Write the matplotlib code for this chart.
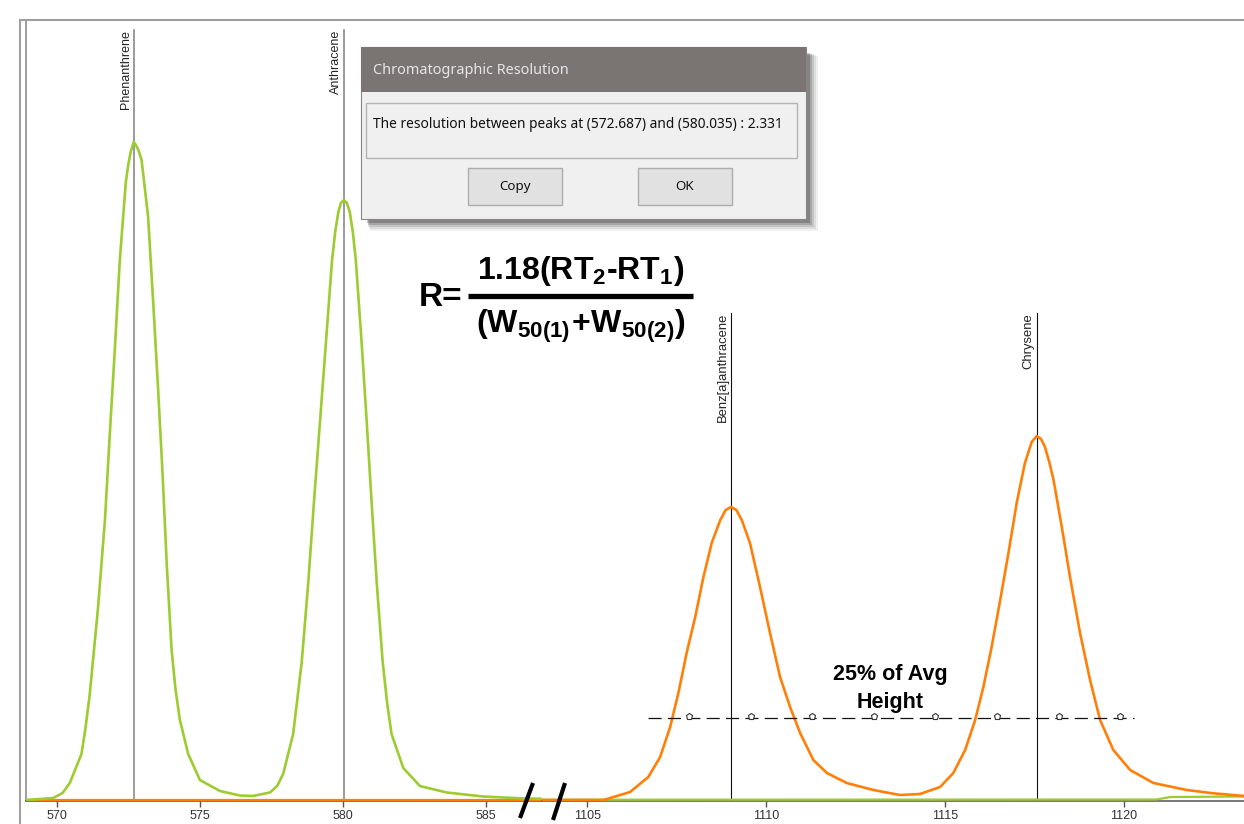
import numpy as np
import matplotlib
matplotlib.use("Agg")
import matplotlib.pyplot as plt
from matplotlib.patches import Rectangle
from matplotlib.lines import Line2D

plt.rcParams['mathtext.fontset'] = 'custom'
plt.rcParams['mathtext.rm'] = 'Liberation Sans:bold'
plt.rcParams['mathtext.it'] = 'Liberation Sans:bold'
plt.rcParams['mathtext.bf'] = 'Liberation Sans:bold'

# green trace (left window, min)
green_x = [568.94, 569.87, 570.20, 570.45, 570.86, 571.00, 571.15, 571.44, 571.68, 571.85,
           572.03, 572.20, 572.41, 572.50, 572.58, 572.687, 572.76, 572.85, 572.96,
           573.19, 573.37, 573.54, 573.70, 573.84, 574.01, 574.15, 574.30, 574.59,
           575.00, 575.70, 576.40, 576.85, 577.45, 577.70, 577.91, 578.26, 578.56,
           578.79, 578.99, 579.20, 579.41, 579.62, 579.73, 579.84, 579.93, 580.035,
           580.14, 580.24, 580.35, 580.45, 580.65, 580.83, 581.00, 581.18, 581.39,
           581.55, 581.70, 582.11, 582.69, 583.63, 584.90, 586.29, 587.0]
green_y = [0, 2, 7, 17, 46, 72, 106, 193, 280, 366,
           453, 540, 618, 636, 648, 658, 655, 650, 640,
           583, 496, 410, 323, 236, 150, 110, 80, 46,
           20, 9, 4.5, 4, 7.5, 14, 26, 66, 138,
           218, 299, 379, 459, 540, 568, 588, 597, 600,
           597, 588, 567, 540, 459, 379, 299, 218, 138,
           96, 66, 32, 14, 7.5, 3.5, 1.6, 1.2]

# orange trace (right window, min)
orange_x = [1103.74, 1105.46, 1106.20, 1106.71, 1107.04, 1107.32, 1107.55, 1107.78,
            1108.02, 1108.25, 1108.48, 1108.72, 1108.87, 1109.02, 1109.17, 1109.32,
            1109.55, 1109.83, 1110.11, 1110.39, 1110.67, 1110.95, 1111.32, 1111.70,
            1112.25, 1113.00, 1113.74, 1114.30, 1114.86, 1115.23, 1115.56, 1115.84,
            1116.07, 1116.30, 1116.54, 1116.77, 1117.00, 1117.23, 1117.42, 1117.56,
            1117.68, 1117.79, 1117.91, 1118.03, 1118.26, 1118.49, 1118.77, 1119.05,
            1119.33, 1119.70, 1120.17, 1120.82, 1121.75, 1122.49, 1123.35]
orange_y = [0, 0, 8, 23, 43, 73, 107, 147,
            183, 223, 257, 280, 290, 293, 290, 280,
            257, 213, 167, 123, 93, 67, 40, 27,
            17, 10, 5, 6, 13, 27, 50, 80,
            113, 153, 200, 247, 297, 337, 358, 364,
            361, 353, 338, 320, 273, 223, 167, 120,
            80, 50, 30, 17, 10, 6.7, 4]

# flat traces in the other window
orange_left_x = [568.9, 587.0]
orange_left_y = [0.3, 0.3]
green_right_x = [1103.74, 1120.9, 1121.3, 1123.35]
green_right_y = [0.3, 0.5, 3, 3.5]

peaks_left = ["Phenanthrene", "Anthracene"]
rt_left = [572.687, 580.035]
peaks_right = ["Benz[a]anthracene", "Chrysene"]
rt_right = [1109.02, 1117.56]

# 25% of average height line
avg_height = (293 + 364) / 2
level = 0.25 * avg_height
level_x = [1106.70, 1120.28]
marker_x = [1107.85, 1109.58, 1111.28, 1113.02, 1114.72, 1116.45, 1118.18, 1119.89]

ticks_left = [570, 575, 580, 585]
ticks_right = [1105, 1110, 1115, 1120]

GREEN = '#9ccc30'
ORANGE = '#ff8008'

W, H = 1244, 824
fig = plt.figure(figsize=(W / 100, H / 100), dpi=100)


def fx(px):
    return px / W


def fy(py):
    return 1 - py / H


def box(x0, y0, x1, y1, **kw):
    fig.patches.append(Rectangle((fx(x0), fy(y1)), fx(x1) - fx(x0), fy(y0) - fy(y1),
                                 transform=fig.transFigure, **kw))


def fline(xs, ys, **kw):
    fig.lines.append(Line2D([fx(v) for v in xs], [fy(v) for v in ys],
                            transform=fig.transFigure, **kw))


brk = 542
bottom, top = 801, 20
ax1 = fig.add_axes([fx(26), fy(bottom), fx(brk) - fx(26), fy(top) - fy(bottom)])
ax2 = fig.add_axes([fx(brk), fy(bottom), fx(W) - fx(brk), fy(top) - fy(bottom)])

for ax, lo, hi, ticks in [(ax1, 568.92, 586.96, ticks_left), (ax2, 1103.74, 1123.35, ticks_right)]:
    ax.set_xlim(lo, hi)
    ax.set_ylim(-1, 780)
    ax.set_yticks([])
    ax.set_xticks(ticks)
    ax.set_xticklabels([str(t) for t in ticks], fontsize=9, color='#333333',
                       family='Liberation Sans')
    ax.tick_params(axis='x', length=4, width=1, color='#555555', pad=2.5)
    for s in ['top', 'right']:
        ax.spines[s].set_visible(False)
    ax.spines['bottom'].set_color('#606060')
    ax.spines['bottom'].set_linewidth(1.2)
    ax.patch.set_alpha(0)
ax1.spines['left'].set_color('#909090')
ax1.spines['left'].set_linewidth(1.2)
ax2.spines['left'].set_visible(False)

# traces
ax1.plot(orange_left_x, orange_left_y, color=ORANGE, lw=1.6, zorder=3)
ax1.plot(green_x, green_y, color=GREEN, lw=1.9, zorder=4)
ax2.plot(green_right_x, green_right_y, color=GREEN, lw=1.6, zorder=3)
ax2.plot(orange_x, orange_y, color=ORANGE, lw=1.9, zorder=4)

# peak labels
for name, rt in zip(peaks_left, rt_left):
    ax1.plot([rt, rt], [0, 770], color='#808080', lw=1.1, zorder=2)
    ax1.annotate(name, xy=(rt, 770), xytext=(-1.5, 0), textcoords='offset points',
                 rotation=90, ha='right', va='top', fontsize=9, color='#222222',
                 family='Liberation Sans')
for name, rt in zip(peaks_right, rt_right):
    ax2.plot([rt, rt], [0, 487], color='#111111', lw=0.8, zorder=2)
    ax2.annotate(name, xy=(rt, 487), xytext=(-1.5, 0), textcoords='offset points',
                 rotation=90, ha='right', va='top', fontsize=9.4, color='#222222',
                 family='Liberation Sans')

# 25% height line with markers
ax2.plot(level_x, [level, level], color='#111111', lw=0.9, dashes=(10.5, 5), zorder=5)
ax2.plot(marker_x, [level + 2] * len(marker_x), linestyle='none', marker='p',
         markersize=4.5, markerfacecolor='white', markeredgecolor='#333333',
         markeredgewidth=0.8, zorder=6)
ax2.text(1113.46, level + 5, "25% of Avg\nHeight", ha='center', va='bottom',
         fontsize=15.5, fontweight='bold', family='Liberation Sans',
         linespacing=1.45, zorder=6)

# outer frame
fline([20, W], [20, 20], color='#a0a0a0', lw=1.5)
fline([20, 20], [20, H], color='#a0a0a0', lw=1.5)

# axis break marks
fline([533, 520], [783, 818], color='black', lw=3, solid_capstyle='butt')
fline([565, 553], [783, 820], color='black', lw=3, solid_capstyle='butt')

# dialog box with soft shadow
for i, a in enumerate([0.06, 0.08, 0.11, 0.15, 0.2]):
    d = 12 - 2 * i
    box(366 + d * 0.3, 52 + d * 0.3, 806 + d, 219 + d, facecolor='black', alpha=a,
        edgecolor='none', zorder=10)
box(361, 47, 806, 219, facecolor='#f0f0f0', edgecolor='#8a8584', lw=0.8, zorder=11)
box(361, 47, 806, 92, facecolor='#7a7473', edgecolor='none', zorder=12)
fig.text(fx(373), fy(70), "Chromatographic Resolution", ha='left', va='center',
         fontsize=10.4, color='#e6e6e6', family='Noto Sans', zorder=13)
box(366, 103, 797, 158, facecolor='#f0f0f0', edgecolor='#b4b4b4', lw=1, zorder=12)
fig.text(fx(373), fy(125), "The resolution between peaks at (572.687) and (580.035) : 2.331",
         ha='left', va='center', fontsize=9.9, color='#111111', family='Noto Sans', zorder=13)
for label, x0, x1 in [("Copy", 468, 562), ("OK", 638, 732)]:
    box(x0, 168, x1, 205, facecolor='#e1e1e1', edgecolor='#adadad', lw=1, zorder=12)
    fig.text(fx((x0 + x1) / 2), fy(186.5), label, ha='center', va='center',
             fontsize=9.6, color='#111111', family='Noto Sans', zorder=13)

# resolution formula
fig.text(fx(441), fy(298), "R=", ha='center', va='center', fontsize=24,
         fontweight='bold', family='Liberation Sans')
fig.text(fx(581), fy(271), r"$\mathrm{1.18(RT_2}\text{-}\mathrm{RT_1)}$", ha='center',
         va='center', fontsize=23)
fline([468, 693], [296, 296], color='black', lw=3.8, solid_capstyle='butt')
fig.text(fx(581), fy(326), r"$\mathrm{(W_{50(1)}\!+\!W_{50(2)})}$", ha='center',
         va='center', fontsize=23)

fig.savefig("out.png", dpi=100)
